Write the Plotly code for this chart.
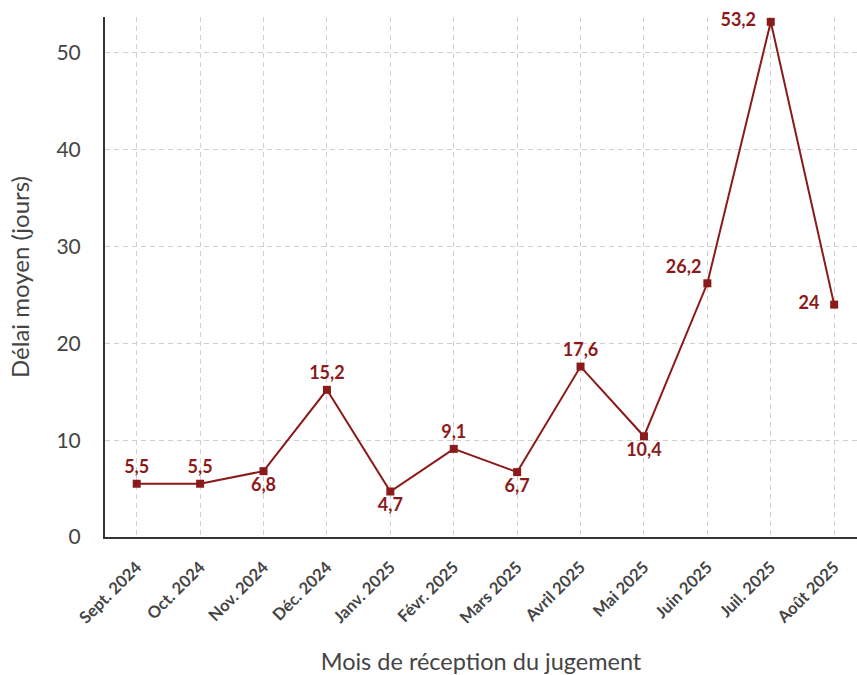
import plotly.graph_objects as go

months = ["Sept. 2024", "Oct. 2024", "Nov. 2024", "Déc. 2024", "Janv. 2025", "Févr. 2025",
          "Mars 2025", "Avril 2025", "Mai 2025", "Juin 2025", "Juil. 2025", "Août 2025"]
delai = [5.5, 5.5, 6.8, 15.2, 4.7, 9.1, 6.7, 17.6, 10.4, 26.2, 53.2, 24]
label_pos = ["top center", "top center", "bottom center", "top center", "bottom center", "top center",
             "bottom center", "top center", "bottom center", "top left", "middle left", "middle left"]
y_ticks = [0, 10, 20, 30, 40, 50]

RED = "#8b1a1a"
FONT = "Lato, Roboto, sans-serif"

labels = [f"{v:g}".replace(".", ",") + ("\u00a0\u00a0" if p == "middle left" else "")
          for v, p in zip(delai, label_pos)]

fig = go.Figure(go.Scatter(
    x=list(range(len(months))), y=delai,
    mode="lines+markers+text",
    line=dict(color=RED, width=2),
    marker=dict(symbol="square", size=8, color=RED),
    text=labels, textposition=label_pos,
    textfont=dict(family=FONT, size=18, color=RED, weight="bold"),
    cliponaxis=False, showlegend=False,
))

fig.update_layout(
    width=857, height=675,
    margin=dict(l=105, r=0, t=17, b=138),
    plot_bgcolor="white", paper_bgcolor="white",
    xaxis=dict(
        tickmode="array", tickvals=list(range(len(months))), ticktext=months,
        range=[-0.5, 11.36], tickangle=-45, automargin=False,
        tickfont=dict(family=FONT, size=16.5, color="#444", weight="bold"),
        showgrid=True, gridcolor="#d0d0d0", griddash="5px,4px", gridwidth=1,
        showline=True, linecolor="#333", linewidth=2,
        ticks="", zeroline=False, ticklabelstandoff=12,
        title=dict(text="Mois de réception du jugement", font=dict(family=FONT, size=23.5, color="#444"), standoff=34),
    ),
    yaxis=dict(
        tickmode="array", tickvals=y_ticks,
        range=[0, 53.7], automargin=False,
        tickfont=dict(family=FONT, size=21, color="#444"),
        showgrid=True, gridcolor="#d0d0d0", griddash="5px,4px", gridwidth=1,
        showline=True, linecolor="#333", linewidth=2,
        ticks="", zeroline=False, ticklabelstandoff=18,
        title=dict(text="Délai moyen (jours)", font=dict(family=FONT, size=24, color="#444"), standoff=20),
    ),
)

fig.write_html("out.html", config={"displayModeBar": False},
               post_script="document.body.style.margin='0';document.body.style.overflow='hidden';")
